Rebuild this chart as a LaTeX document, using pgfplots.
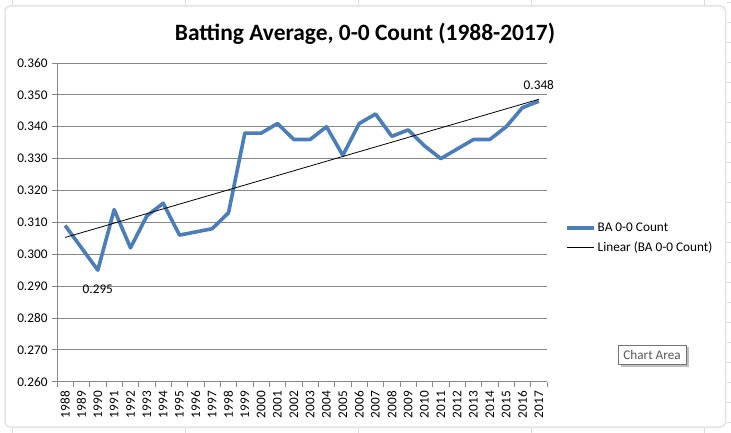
\documentclass[border=0pt]{standalone}
\usepackage{pgfplots}
\pgfplotsset{compat=1.18}
\usepackage{pgfplotstable}
\usepackage{fontspec}
\setmainfont{Carlito}
\definecolor{exblue}{HTML}{4A7EBB}
\definecolor{gridgray}{HTML}{878787}
\definecolor{sheetgray}{HTML}{DADCDD}

\pgfplotstableread{
year t ba
1988 1 0.309
1989 2 0.302
1990 3 0.295
1991 4 0.314
1992 5 0.302
1993 6 0.312
1994 7 0.316
1995 8 0.306
1996 9 0.307
1997 10 0.308
1998 11 0.313
1999 12 0.338
2000 13 0.338
2001 14 0.341
2002 15 0.336
2003 16 0.336
2004 17 0.340
2005 18 0.331
2006 19 0.341
2007 20 0.344
2008 21 0.337
2009 22 0.339
2010 23 0.334
2011 24 0.330
2012 25 0.333
2013 26 0.336
2014 27 0.336
2015 28 0.340
2016 29 0.346
2017 30 0.348
}\datatable

\begin{document}
\begin{tikzpicture}
\useasboundingbox (0bp,0bp) rectangle (731bp,433bp);
\begin{scope}[x=1bp,y=1bp]
\fill[white] (0,0) rectangle (731,433);
\foreach \xx in {12,185,358,531,704} {\draw[sheetgray,line width=0.8bp] (\xx,0) -- (\xx,433);}
\foreach \yy in {11,31,51,71,91,111,131,151,171,191,211,231,251,271,291,311,331,351,371,391,411,431} {\draw[sheetgray,line width=0.8bp] (727,\yy) -- (731,\yy);}
\draw[sheetgray!80,line width=1.5bp,fill=white,rounded corners=5bp] (5,6) rectangle (725.5,427);
\node[font=\bfseries\fontsize{23.5}{28}\selectfont] at (365,399) {Batting Average, 0-0 Count (1988-2017)};
\end{scope}
\begin{axis}[
  at={(57bp,51.3bp)}, anchor=south west,
  scale only axis, width=490bp, height=318.7bp,
  xmin=1987.5, xmax=2017.5, ymin=0.26, ymax=0.36,
  axis lines*=left,
  axis line style={gridgray, line width=0.9bp},
  ytick={0.26,0.27,0.28,0.29,0.30,0.31,0.32,0.33,0.34,0.35,0.36},
  ymajorgrids, grid style={gridgray, line width=0.9bp},
  yticklabel style={/pgf/number format/fixed, /pgf/number format/fixed zerofill, /pgf/number format/precision=3, /pgf/number format/assume math mode=true, xshift=-1bp},
  xtick={1988,1989,...,2017},
  xticklabel style={/pgf/number format/set thousands separator={}, /pgf/number format/assume math mode=true, rotate=90, anchor=east, xshift=-1bp},
  minor xtick={1987.5,1988.5,...,2017.5},
  major x tick style={draw=none},
  minor x tick style={gridgray, line width=0.9bp},
  major y tick style={gridgray, line width=0.9bp},
  tick align=outside, major tick length=5bp, minor tick length=5bp,
  tick label style={font=\fontsize{13.3}{15}\selectfont},
  legend style={at={(1.0305,0.45)}, anchor=west, draw=none, fill=none,
    font=\fontsize{13.3}{15}\selectfont, row sep=5bp,
    legend cell align=left},
  legend image code/.code={\draw[#1] (0bp,0bp) -- (27bp,0bp);},
  clip=false,
]
\addplot[exblue, line width=3.6bp, line join=round] table[x=year,y=ba] {\datatable};
\addlegendentry{BA 0-0 Count}
\addplot[black, line width=0.8bp] table[x=year, y={create col/linear regression={x=t,y=ba}}] {\datatable};
\addlegendentry{Linear (BA 0-0 Count)}
\node[font=\fontsize{13.3}{15}\selectfont] at (axis cs:1990,0.295) [yshift=-19bp] {0.295};
\node[font=\fontsize{13.3}{15}\selectfont] at (axis cs:2017,0.348) [yshift=16.5bp] {0.348};
\end{axis}
\begin{scope}[x=1bp,y=1bp]
\fill[black!25] (621,66) rectangle (689,86);
\node[draw=black!55, fill=white, line width=0.9bp, minimum width=68bp, minimum height=19bp, inner sep=0pt, text=black!65, font=\fontsize{13.3}{15}\selectfont] at (652,78) {Chart Area};
\end{scope}
\end{tikzpicture}
\end{document}
